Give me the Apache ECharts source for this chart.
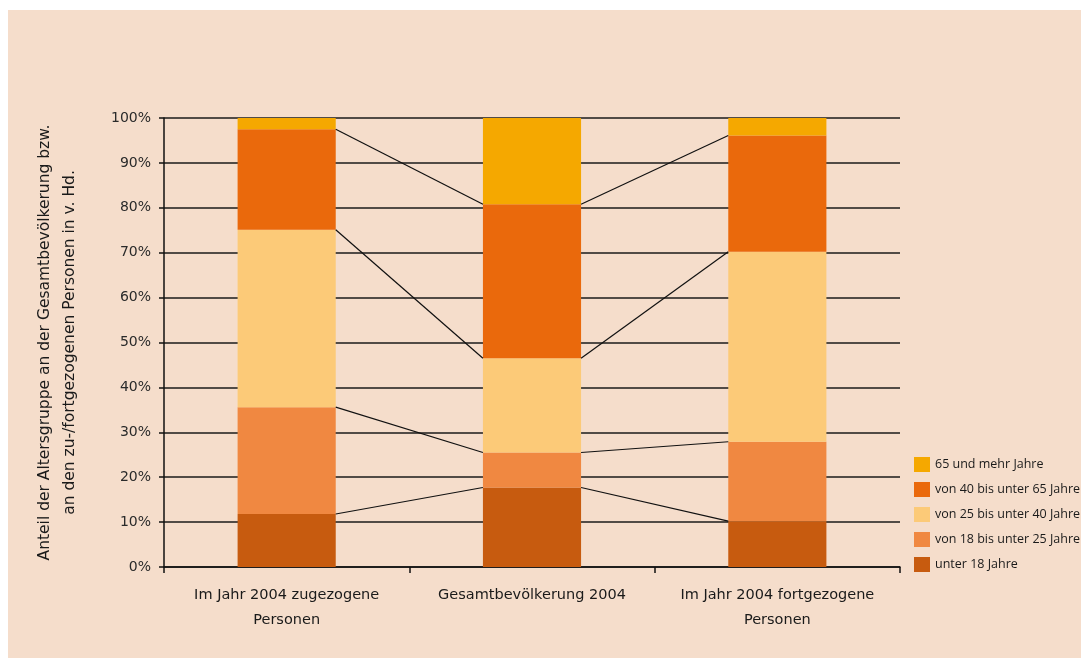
<!DOCTYPE html>
<html lang="de">
<head>
    <meta charset="UTF-8">
    <script src="https://cdn.jsdelivr.net/npm/echarts@6/dist/echarts.min.js"></script>
    <title>Altersgruppen</title>
    <style>
        html, body { margin: 0; padding: 0; background: #ffffff; }
        #main { position: absolute; left: 8px; top: 10px; width: 1073px; height: 648px; }
    </style>
</head>
<body>
<div id="main"></div>
<script type="text/javascript">
    // Kategorien und Werte (in %)
    var categories = ['Im Jahr 2004 zugezogene\nPersonen', 'Gesamtbevölkerung 2004', 'Im Jahr 2004 fortgezogene\nPersonen'];
    var seriesNames = ['unter 18 Jahre', 'von 18 bis unter 25 Jahre', 'von 25 bis unter 40 Jahre', 'von 40 bis unter 65 Jahre', '65 und mehr Jahre'];
    var unter18 = [11.8, 17.7, 10.2];
    var von18bis25 = [23.8, 7.8, 17.7];
    var von25bis40 = [39.5, 21.0, 42.3];
    var von40bis65 = [22.4, 34.3, 25.9];
    var ab65 = [2.5, 19.2, 3.9];
    var yTicks = [0, 10, 20, 30, 40, 50, 60, 70, 80, 90, 100];

    var colors = ['#C75B0F', '#F08841', '#FCCA78', '#EA690C', '#F5A800'];
    var values = [unter18, von18bis25, von25bis40, von40bis65, ab65];

    // Verbindungslinien zwischen den Segmentgrenzen
    var linkData = [];
    var cum = [0, 0, 0];
    for (var s = 0; s < values.length - 1; s++) {
        for (var c = 0; c < 3; c++) cum[c] += values[s][c];
        for (var c2 = 0; c2 < 2; c2++) {
            linkData.push([c2, cum[c2], cum[c2 + 1]]);
        }
    }

    var series = [];
    for (var i = 0; i < values.length; i++) {
        series.push({
            name: seriesNames[i],
            type: 'bar',
            stack: 'total',
            barWidth: '40%',
            itemStyle: { color: colors[i] },
            data: values[i]
        });
    }
    series.push({
        type: 'custom',
        z: 5,
        silent: true,
        renderItem: function (params, api) {
            var half = api.size([1, 0])[0] * 0.4 / 2;
            var p1 = api.coord([api.value(0), api.value(1)]);
            var p2 = api.coord([api.value(0) + 1, api.value(2)]);
            return {
                type: 'line',
                shape: { x1: p1[0] + half, y1: p1[1], x2: p2[0] - half, y2: p2[1] },
                style: { stroke: '#111', lineWidth: 1.2 }
            };
        },
        data: linkData
    });

    var myChart = echarts.init(document.getElementById('main'));
    var option = {
        backgroundColor: '#F5DDCB',
        animation: false,
        textStyle: { fontFamily: 'DejaVu Sans', color: '#1a1a1a' },
        grid: { left: 156, right: 181, top: 108, bottom: 91 },
        legend: {
            orient: 'vertical',
            left: 906,
            top: 447,
            padding: 0,
            icon: 'rect',
            itemWidth: 16,
            itemHeight: 15,
            itemGap: 10,
            data: seriesNames.slice().reverse(),
            textStyle: { fontSize: 12.5, color: '#1a1a1a', fontFamily: 'Open Sans' }
        },
        xAxis: {
            type: 'category',
            data: categories,
            axisLine: { lineStyle: { color: '#111', width: 1.5 } },
            axisTick: { show: true, interval: 0, length: 6, lineStyle: { color: '#111', width: 1.5 } },
            axisLabel: { interval: 0, hideOverlap: false, margin: 16, fontSize: 14.5, lineHeight: 25, color: '#1a1a1a' }
        },
        yAxis: {
            type: 'value',
            min: yTicks[0],
            max: yTicks[yTicks.length - 1],
            interval: 10,
            name: 'Anteil der Altersgruppe an der Gesamtbevölkerung bzw.\nan den zu-/fortgezogenen Personen in v. Hd.',
            nameLocation: 'middle',
            nameGap: 82,
            nameTextStyle: { fontSize: 15.5, lineHeight: 25, color: '#1a1a1a' },
            axisLine: { show: true, lineStyle: { color: '#111', width: 1.5 } },
            axisTick: { show: true, length: 5, lineStyle: { color: '#111', width: 1.5 } },
            axisLabel: { margin: 13, fontSize: 14, color: '#2a2a2a', formatter: '{value}%' },
            splitLine: { lineStyle: { color: '#1a1a1a', width: 1.6 } }
        },
        series: series
    };
    myChart.setOption(option);
</script>
</body>
</html>
